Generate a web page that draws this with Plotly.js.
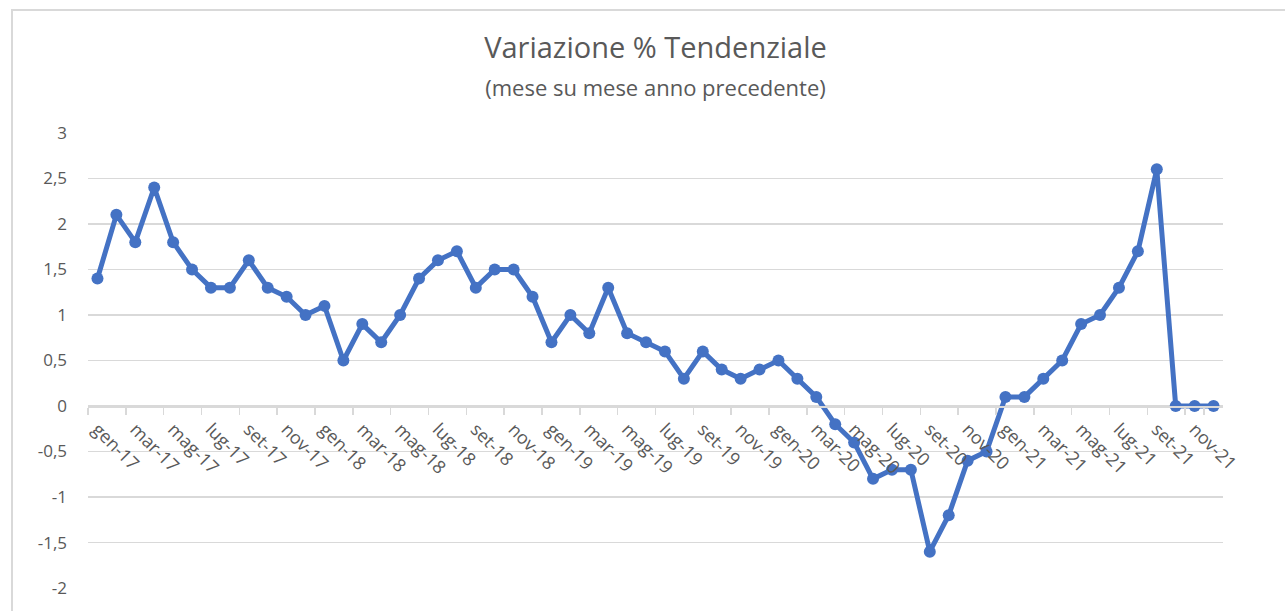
<!DOCTYPE html>
<html>
<head>
<meta charset="utf-8">
<script src="https://cdn.plot.ly/plotly-3.0.1.min.js"></script>
<style>
  html, body { margin: 0; padding: 0; background: #fff; }
  #wrap { position: relative; width: 1285px; height: 611px; }
  #chart { width: 1285px; height: 611px; }
  #frame { position: absolute; left: 11px; top: 9px; width: 1290px; height: 620px;
           border-left: 2px solid #d9d9d9; border-top: 2px solid #d9d9d9; pointer-events: none; }
</style>
</head>
<body>
<div id="wrap">
  <div id="chart"></div>
  <div id="frame"></div>
</div>
<script>
const months = ["gen","feb","mar","apr","mag","giu","lug","ago","set","ott","nov","dic"];
const years = ["17","18","19","20","21"];
const categories = [];
years.forEach(y => months.forEach(m => categories.push(m + "-" + y)));

const values = [
  1.4, 2.1, 1.8, 2.4, 1.8, 1.5, 1.3, 1.3, 1.6, 1.3, 1.2, 1.0,
  1.1, 0.5, 0.9, 0.7, 1.0, 1.4, 1.6, 1.7, 1.3, 1.5, 1.5, 1.2,
  0.7, 1.0, 0.8, 1.3, 0.8, 0.7, 0.6, 0.3, 0.6, 0.4, 0.3, 0.4,
  0.5, 0.3, 0.1, -0.2, -0.4, -0.8, -0.7, -0.7, -1.6, -1.2, -0.6, -0.5,
  0.1, 0.1, 0.3, 0.5, 0.9, 1.0, 1.3, 1.7, 2.6, 0.0, 0.0, 0.0
];

const yTicks = [-2, -1.5, -1, -0.5, 0, 0.5, 1, 1.5, 2, 2.5, 3];
const yTickText = yTicks.map(v => String(v).replace(".", ","));

const xTickVals = categories.filter((c, i) => i % 2 === 0);

const titleText = "Variazione % Tendenziale";
const subtitleText = "(mese su mese anno precedente)";

const fontFam = "'Open Sans', sans-serif";
const grey = "#595959";

const trace = {
  type: "scatter",
  mode: "lines+markers",
  x: categories,
  y: values,
  line: { color: "#4472C4", width: 5 },
  marker: { color: "#4472C4", size: 12 },
  hoverinfo: "x+y"
};

const layout = {
  width: 1285,
  height: 611,
  margin: { l: 88, r: 62, t: 132, b: 22 },
  paper_bgcolor: "#ffffff",
  plot_bgcolor: "#ffffff",
  showlegend: false,
  separators: ", ",
  title: {
    text: titleText + "<br><span style='font-size:22px'>" + subtitleText + "</span>",
    font: { family: fontFam, size: 29, color: grey },
    x: 0.5, xanchor: "center",
    xref: "paper",
    y: 0.905, yanchor: "top"
  },
  xaxis: {
    type: "category",
    range: [-0.5, categories.length - 0.5],
    anchor: "free",
    position: 0.4,
    tickmode: "array",
    tickvals: xTickVals,
    ticktext: xTickVals,
    tickson: "boundaries",
    ticks: "outside",
    ticklen: 7,
    tickwidth: 1.5,
    tickcolor: "#d9d9d9",
    tickangle: 45,
    ticklabelstandoff: 4,
    tickfont: { family: fontFam, size: 18, color: grey },
    showline: true,
    linecolor: "#d9d9d9",
    linewidth: 1.5,
    showgrid: false,
    zeroline: false,
    fixedrange: true
  },
  yaxis: {
    range: [-2.01, 3.01],
    tickmode: "array",
    tickvals: yTicks,
    ticktext: yTickText,
    tickfont: { family: fontFam, size: 17, color: grey },
    ticks: "",
    ticklabelstandoff: 20,
    showgrid: true,
    gridcolor: "#d9d9d9",
    gridwidth: 1.5,
    zeroline: false,
    showline: false,
    fixedrange: true
  }
};

Plotly.newPlot("chart", [trace], layout, { displayModeBar: false, staticPlot: true });
</script>
</body>
</html>
